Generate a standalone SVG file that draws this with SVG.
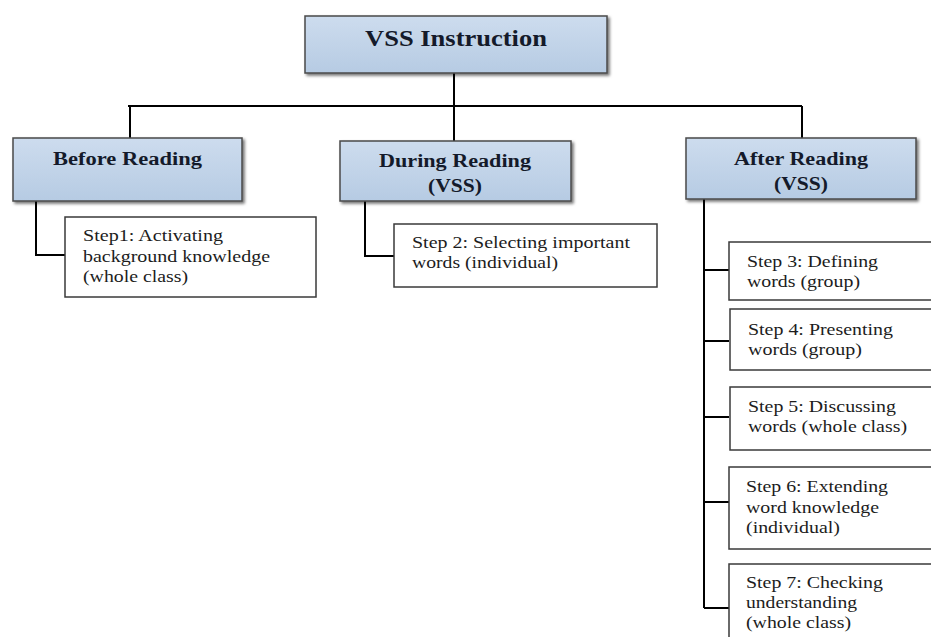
<svg xmlns="http://www.w3.org/2000/svg" width="931" height="637" viewBox="0 0 931 637">
<defs>
<linearGradient id="hdr" x1="0" y1="0" x2="0" y2="1">
<stop offset="0" stop-color="#cddcee"/>
<stop offset="1" stop-color="#b6cbe3"/>
</linearGradient>
<filter id="sh" x="-10%" y="-10%" width="130%" height="140%">
<feDropShadow dx="2" dy="2" stdDeviation="1.5" flood-color="#000" flood-opacity="0.55"/>
</filter>
</defs>
<style>
.hdr{fill:url(#hdr);stroke:#4a4a4a;stroke-width:1.5;filter:url(#sh)}
.box{fill:#fff;stroke:#3a3a3a;stroke-width:1.5}
.ht{font-family:'Liberation Serif','Times New Roman',Times,'DejaVu Serif',serif;font-weight:bold;fill:#141a2a;text-anchor:middle}
.st{font-family:'Liberation Serif','Times New Roman',Times,'DejaVu Serif',serif;font-size:17px;fill:#1c1c1c}
.ln{fill:none;stroke:#000;stroke-width:2}
</style>
<rect width="931" height="637" fill="#fff"/>
<g id="connectors">
<path class="ln" d="M454 73V106M128 106H802M130 106V138M454 106V141M802 106V138"/>
<path class="ln" d="M36 201V255H65"/>
<path class="ln" d="M365 201V256H394"/>
<path class="ln" d="M704 199V608M704 270H729M704 341H729M704 417H729M704 502H729M704 608H729"/>
</g>
<g id="vss-instruction">
<rect class="hdr" x="305" y="16" width="302" height="57"/>
<text class="ht" x="456" y="46" font-size="23" textLength="182" lengthAdjust="spacingAndGlyphs">VSS Instruction</text>
</g>
<g id="before-reading">
<rect class="hdr" x="13" y="138" width="229" height="63"/>
<text class="ht" x="127.5" y="165" font-size="18" textLength="149" lengthAdjust="spacingAndGlyphs">Before Reading</text>
</g>
<g id="during-reading">
<rect class="hdr" x="340" y="141" width="231" height="60"/>
<text class="ht" x="455" y="167" font-size="18" textLength="152" lengthAdjust="spacingAndGlyphs">During Reading</text>
<text class="ht" x="455" y="192" font-size="18" textLength="54" lengthAdjust="spacingAndGlyphs">(VSS)</text>
</g>
<g id="after-reading">
<rect class="hdr" x="686" y="138" width="230" height="61"/>
<text class="ht" x="801" y="165" font-size="18" textLength="134" lengthAdjust="spacingAndGlyphs">After Reading</text>
<text class="ht" x="801" y="190" font-size="18" textLength="54" lengthAdjust="spacingAndGlyphs">(VSS)</text>
</g>
<g id="step1">
<rect class="box" x="65" y="217" width="251" height="80"/>
<text class="st" x="83" y="241" textLength="140" lengthAdjust="spacingAndGlyphs">Step1: Activating</text>
<text class="st" x="83" y="262" textLength="187" lengthAdjust="spacingAndGlyphs">background knowledge</text>
<text class="st" x="83" y="282" textLength="105" lengthAdjust="spacingAndGlyphs">(whole class)</text>
</g>
<g id="step2">
<rect class="box" x="394" y="224" width="263" height="63"/>
<text class="st" x="412" y="248" textLength="218" lengthAdjust="spacingAndGlyphs">Step 2: Selecting important</text>
<text class="st" x="412" y="268" textLength="146" lengthAdjust="spacingAndGlyphs">words (individual)</text>
</g>
<g id="step3">
<rect class="box" x="729" y="242" width="210" height="58"/>
<text class="st" x="747" y="267" textLength="131" lengthAdjust="spacingAndGlyphs">Step 3: Defining</text>
<text class="st" x="747" y="287" textLength="113" lengthAdjust="spacingAndGlyphs">words (group)</text>
</g>
<g id="step4">
<rect class="box" x="730" y="309" width="210" height="61"/>
<text class="st" x="748" y="335" textLength="145" lengthAdjust="spacingAndGlyphs">Step 4: Presenting</text>
<text class="st" x="748" y="355" textLength="114" lengthAdjust="spacingAndGlyphs">words (group)</text>
</g>
<g id="step5">
<rect class="box" x="730" y="387" width="210" height="63"/>
<text class="st" x="748" y="412" textLength="148" lengthAdjust="spacingAndGlyphs">Step 5: Discussing</text>
<text class="st" x="748" y="432" textLength="159" lengthAdjust="spacingAndGlyphs">words (whole class)</text>
</g>
<g id="step6">
<rect class="box" x="729" y="467" width="210" height="82"/>
<text class="st" x="746" y="492" textLength="142" lengthAdjust="spacingAndGlyphs">Step 6: Extending</text>
<text class="st" x="746" y="513" textLength="133" lengthAdjust="spacingAndGlyphs">word knowledge</text>
<text class="st" x="746" y="533" textLength="94" lengthAdjust="spacingAndGlyphs">(individual)</text>
</g>
<g id="step7">
<rect class="box" x="729" y="564" width="210" height="90"/>
<text class="st" x="746" y="588" textLength="137" lengthAdjust="spacingAndGlyphs">Step 7: Checking</text>
<text class="st" x="746" y="608" textLength="111" lengthAdjust="spacingAndGlyphs">understanding</text>
<text class="st" x="746" y="628" textLength="105" lengthAdjust="spacingAndGlyphs">(whole class)</text>
</g>
</svg>
